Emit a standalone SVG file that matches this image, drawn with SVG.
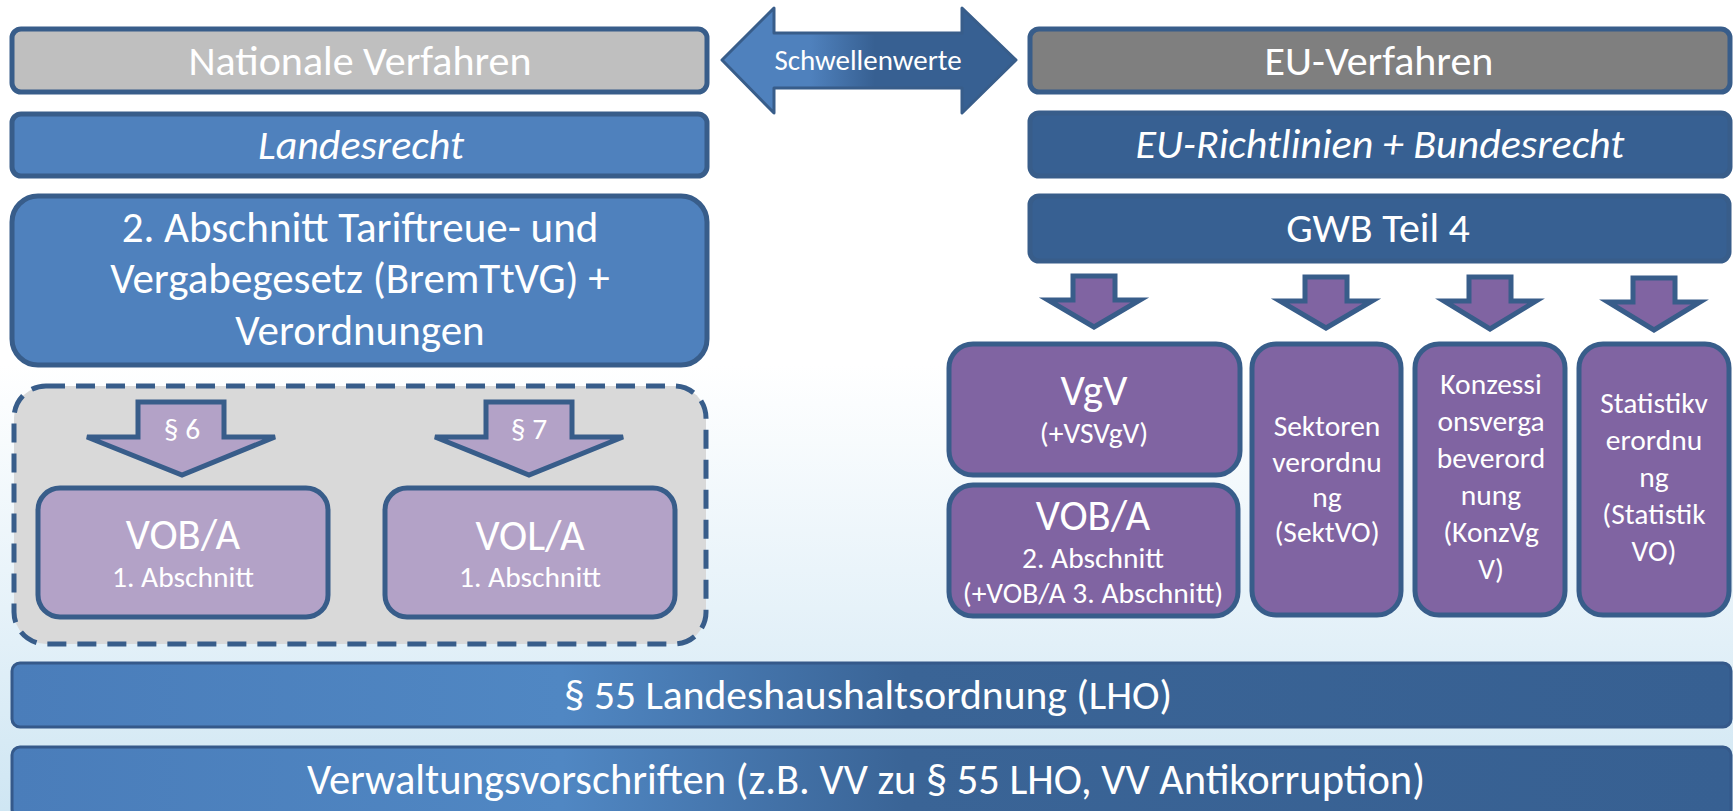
<svg xmlns="http://www.w3.org/2000/svg" width="1733" height="811" viewBox="0 0 1733 811">
<defs>
<linearGradient id="bg" x1="0" y1="0" x2="0" y2="811" gradientUnits="userSpaceOnUse">
<stop offset="0" stop-color="#ffffff"/><stop offset="0.45" stop-color="#ffffff"/><stop offset="0.75" stop-color="#e6f2f9"/><stop offset="1" stop-color="#cfe6f3"/>
</linearGradient>
<linearGradient id="arrowGrad" x1="722" y1="0" x2="1016" y2="0" gradientUnits="userSpaceOnUse">
<stop offset="0" stop-color="#4f81bd"/><stop offset="0.3" stop-color="#4f81bd"/><stop offset="0.52" stop-color="#376092"/><stop offset="1" stop-color="#376092"/>
</linearGradient>
<linearGradient id="barGrad" x1="12" y1="0" x2="1731" y2="0" gradientUnits="userSpaceOnUse">
<stop offset="0" stop-color="#4a7dba"/><stop offset="0.32" stop-color="#5087c3"/><stop offset="0.52" stop-color="#3a6496"/><stop offset="1" stop-color="#376092"/>
</linearGradient>
<style>
.t{font-family:Carlito,Lato,"Liberation Sans",sans-serif;fill:#ffffff;text-anchor:middle}
.b{stroke:#385d8a;stroke-width:5}
.grey{fill:#bfbfbf}
.dgrey{fill:#7f7f7f}
.blue{fill:#4f81bd}
.dblue{fill:#376092}
.lp{fill:#b3a2c7}
.dp{fill:#8064a2}
.h{font-size:42px}
.m{font-size:29.5px}
.l{font-size:42.5px}
</style>
</defs>
<rect x="0" y="0" width="1733" height="811" fill="url(#bg)"/>

<g id="national">
<rect class="b grey" x="12" y="29" width="695" height="63" rx="9"/>
<text class="t h" x="360" y="75">Nationale Verfahren</text>
</g>
<g id="schwellenwerte">
<path d="M722,60 L774,8 L774,33 L962,33 L962,8 L1016,60 L962,113 L962,88 L774,88 L774,113 Z" fill="url(#arrowGrad)" stroke="#385d8a" stroke-width="3" stroke-linejoin="round"/>
<text class="t" style="font-size:29px" x="868" y="70">Schwellenwerte</text>
</g>
<g id="eu">
<rect class="b dgrey" x="1030" y="29" width="700" height="63" rx="9"/>
<text class="t h" x="1379" y="75">EU-Verfahren</text>
</g>
<g id="landesrecht">
<rect class="b blue" x="12" y="114" width="695" height="62" rx="9"/>
<text class="t h" font-style="italic" x="361" y="159">Landesrecht</text>
</g>
<g id="eurichtlinien">
<rect class="b dblue" x="1030" y="113" width="700" height="63" rx="9"/>
<text class="t h" font-style="italic" x="1380" y="158">EU-Richtlinien + Bundesrecht</text>
</g>
<g id="bremttvg">
<rect class="b blue" x="12" y="196" width="695" height="169" rx="26"/>
<text class="t" style="font-size:43px" x="360" y="242">2. Abschnitt Tariftreue- und</text>
<text class="t" style="font-size:43px" x="360" y="293">Vergabegesetz (BremTtVG) +</text>
<text class="t" style="font-size:43px" x="360" y="345">Verordnungen</text>
</g>
<g id="gwb">
<rect class="b dblue" x="1030" y="196" width="699" height="65" rx="9"/>
<text class="t h" x="1378" y="242">GWB Teil 4</text>
</g>

<g id="national-group">
<rect x="14" y="386" width="692" height="258" rx="32" fill="#d9d9d9" stroke="#385d8a" stroke-width="5" stroke-dasharray="19,11"/>
</g>

<g id="connectors">
<path class="b lp" d="M138,402 L224,402 L224,437 L275,437 L182,475 L87,437 L138,437 Z"/>
<text class="t m" x="182" y="439">§ 6</text>
<path class="b lp" d="M486,402 L572,402 L572,437 L623,437 L529,475 L435,437 L486,437 Z"/>
<text class="t m" x="529" y="439">§ 7</text>
<path class="b dp" d="M1073,276 L1115,276 L1115,300 L1140,300 L1094,327 L1048,300 L1073,300 Z"/>
<path class="b dp" d="M1305,277 L1347,277 L1347,301 L1372,301 L1326,328 L1280,301 L1305,301 Z"/>
<path class="b dp" d="M1469,277 L1511,277 L1511,301 L1536,301 L1490,329 L1444,301 L1469,301 Z"/>
<path class="b dp" d="M1633,278 L1675,278 L1675,302 L1700,302 L1654,330 L1608,302 L1633,302 Z"/>
</g>

<g id="vob1">
<rect class="b lp" x="38" y="488" width="290" height="129" rx="22"/>
<text class="t l" x="183" y="549">VOB/A</text>
<text class="t m" x="183" y="587">1. Abschnitt</text>
</g>
<g id="vol1">
<rect class="b lp" x="385" y="488" width="290" height="129" rx="22"/>
<text class="t l" x="530" y="550">VOL/A</text>
<text class="t m" x="530" y="587">1. Abschnitt</text>
</g>

<g id="vgv">
<rect class="b dp" x="949" y="344" width="291" height="131" rx="24"/>
<text class="t" style="font-size:43px" x="1094" y="405">VgV</text>
<text class="t m" x="1094" y="443">(+VSVgV)</text>
</g>
<g id="vob2">
<rect class="b dp" x="949" y="485" width="289" height="131" rx="24"/>
<text class="t l" x="1093" y="530">VOB/A</text>
<text class="t m" x="1093" y="568">2. Abschnitt</text>
<text class="t m" x="1093" y="603">(+VOB/A 3. Abschnitt)</text>
</g>
<g id="sektvo">
<rect class="b dp" x="1252" y="344" width="149" height="271" rx="24"/>
<text class="t m" x="1327" y="436">Sektoren</text>
<text class="t m" x="1327" y="472">verordnu</text>
<text class="t m" x="1327" y="507">ng</text>
<text class="t m" x="1327" y="542">(SektVO)</text>
</g>
<g id="konzvgv">
<rect class="b dp" x="1415" y="344" width="150" height="271" rx="24"/>
<text class="t m" x="1491" y="394">Konzessi</text>
<text class="t m" x="1491" y="431">onsverga</text>
<text class="t m" x="1491" y="468">beverord</text>
<text class="t m" x="1491" y="505">nung</text>
<text class="t m" x="1491" y="542">(KonzVg</text>
<text class="t m" x="1491" y="579">V)</text>
</g>
<g id="statistikvo">
<rect class="b dp" x="1579" y="344" width="150" height="271" rx="24"/>
<text class="t m" x="1654" y="413">Statistikv</text>
<text class="t m" x="1654" y="450">erordnu</text>
<text class="t m" x="1654" y="487">ng</text>
<text class="t m" x="1654" y="524">(Statistik</text>
<text class="t m" x="1654" y="561">VO)</text>
</g>

<g id="lho">
<rect x="12" y="663" width="1719" height="64" rx="8" fill="url(#barGrad)" stroke="#35598a" stroke-width="3"/>
<text class="t" style="font-size:41.5px" x="868" y="709">§ 55 Landeshaushaltsordnung (LHO)</text>
</g>
<g id="vv">
<rect x="12" y="747" width="1719" height="70" rx="8" fill="url(#barGrad)" stroke="#35598a" stroke-width="3"/>
<text class="t" style="font-size:42.5px" x="866" y="794">Verwaltungsvorschriften (z.B. VV zu § 55 LHO, VV Antikorruption)</text>
</g>
</svg>
